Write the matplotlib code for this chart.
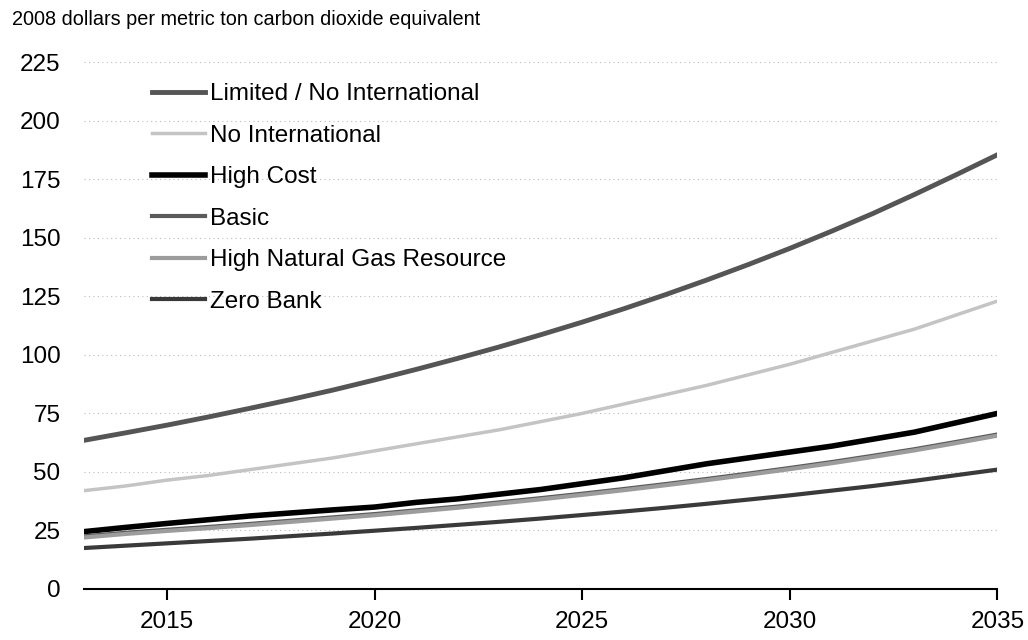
import matplotlib
matplotlib.use("Agg")
import matplotlib.pyplot as plt

plt.rcParams["font.family"] = ["Liberation Sans", "DejaVu Sans"]

years = list(range(2013, 2036))

limited_no_intl = [63.5, 66.7, 70.0, 73.5, 77.2, 81.0, 85.0, 89.3, 93.8, 98.5, 103.4, 108.6,
                   114.0, 119.7, 125.7, 132.0, 138.6, 145.5, 152.8, 160.4, 168.5, 176.9, 185.5]
no_intl = [42.0, 44.0, 46.5, 48.5, 51.0, 53.5, 56.0, 59.0, 62.0, 65.0, 68.0, 71.5,
           75.0, 79.0, 83.0, 87.0, 91.5, 96.0, 101.0, 106.0, 111.0, 117.0, 123.0]
high_cost = [24.5, 26.3, 28.0, 29.6, 31.2, 32.5, 33.8, 35.0, 37.0, 38.5, 40.5, 42.5,
             45.0, 47.5, 50.5, 53.5, 56.0, 58.5, 61.0, 64.0, 67.0, 71.0, 75.0]
basic = [22.5, 24.0, 25.3, 26.5, 27.8, 29.2, 30.6, 32.0, 33.6, 35.2, 37.0, 38.8,
         40.7, 42.7, 44.8, 47.0, 49.3, 51.7, 54.2, 56.9, 59.7, 62.8, 66.0]
high_gas = [22.0, 23.5, 24.8, 26.0, 27.3, 28.7, 30.1, 31.5, 33.1, 34.7, 36.5, 38.3,
            40.2, 42.2, 44.3, 46.5, 48.8, 51.2, 53.7, 56.4, 59.2, 62.3, 65.5]
zero_bank = [17.5, 18.5, 19.5, 20.5, 21.5, 22.6, 23.7, 24.9, 26.1, 27.4, 28.7, 30.1,
             31.6, 33.1, 34.7, 36.4, 38.2, 40.0, 42.0, 44.0, 46.2, 48.6, 51.0]

fig = plt.figure(figsize=(10.28, 6.4), dpi=100)
ax = fig.add_axes([0.0817, 0.0797, 0.8886, 0.823])

ax.plot(years, limited_no_intl, color="#555555", lw=3.5, label="Limited / No International")
ax.plot(years, no_intl, color="#c4c4c4", lw=2.5, label="No International")
ax.plot(years, high_cost, color="black", lw=4, label="High Cost")
ax.plot(years, basic, color="#5a5a5a", lw=3, label="Basic")
ax.plot(years, high_gas, color="#9c9c9c", lw=3, label="High Natural Gas Resource")
ax.plot(years, zero_bank, color="#3a3a3a", lw=3, label="Zero Bank")

ax.set_xlim(2013, 2035)
ax.set_ylim(0, 225)
ax.set_yticks(range(0, 226, 25))
ax.set_xticks(range(2015, 2036, 5))
ax.grid(axis="y", color="#bbbbbb", linestyle=(0, (1, 3)), lw=0.8)
ax.set_axisbelow(True)
for s in ["top", "right", "left"]:
    ax.spines[s].set_visible(False)
ax.spines["bottom"].set_linewidth(1.5)
ax.tick_params(axis="y", length=0, pad=17, labelsize=17.5)
ax.tick_params(axis="x", length=8, width=1.5, direction="out", pad=8, labelsize=17.5)

fig.text(0.012, 0.969, "2008 dollars per metric ton carbon dioxide equivalent",
         fontsize=14.3, va="center", ha="left")

ax.legend(loc="upper left", bbox_to_anchor=(0.061, 0.983), frameon=False, fontsize=17.5,
          handlelength=2.18, handletextpad=0.2, labelspacing=0.8, borderpad=0)

fig.savefig("out.png", dpi=100)
